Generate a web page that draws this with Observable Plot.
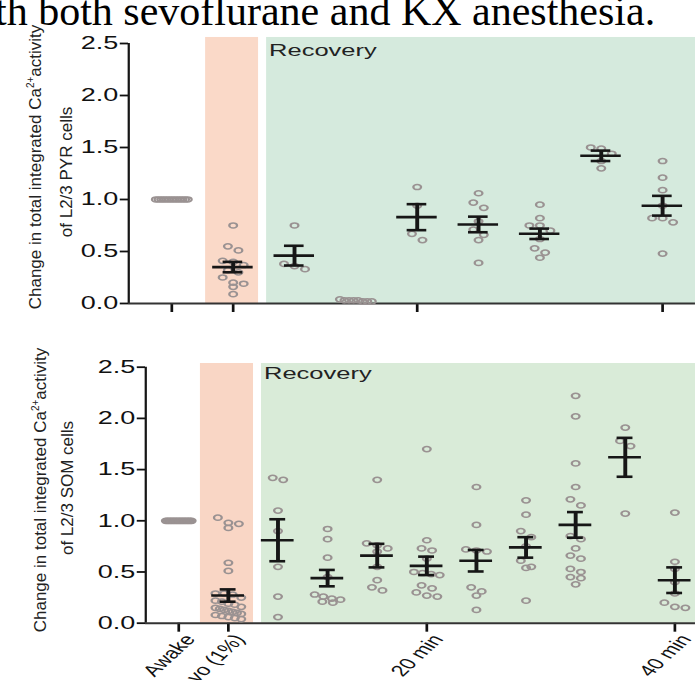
<!DOCTYPE html>
<html>
<head>
<meta charset="utf-8">
<script src="https://cdn.jsdelivr.net/npm/d3@7"></script>
<script src="https://cdn.jsdelivr.net/npm/@observablehq/plot@0.6"></script>
<style>
  html, body { margin: 0; padding: 0; background: #fff; width: 695px; height: 680px; overflow: hidden; position: relative; }
  .panel { position: absolute; left: 0; transform: scaleX(1.5); transform-origin: 0 0; }
  #overlay { position: absolute; left: 0; top: 0; pointer-events: none; }
</style>
</head>
<body>
<div id="top" class="panel" style="top:30px"></div>
<div id="bottom" class="panel" style="top:318px"></div>
<svg id="overlay" width="695" height="680">
  <text x="-5" y="25" font-family="Liberation Serif, Times New Roman, serif" font-size="42" fill="#000">th both sevoflurane and KX anesthesia.</text>
  <g font-family="Liberation Sans, Arial, sans-serif" font-size="17" fill="#222" text-anchor="middle">
    <text transform="translate(41,167) rotate(-90)">Change in total integrated Ca<tspan font-size="10" dy="-7">2+</tspan><tspan dy="7">activity</tspan></text>
    <text transform="translate(72,172) rotate(-90)">of L2/3 PYR cells</text>
    <text transform="translate(46,490) rotate(-90)">Change in total integrated Ca<tspan font-size="10" dy="-7">2+</tspan><tspan dy="7">activity</tspan></text>
    <text transform="translate(73,488) rotate(-90)">of L2/3 SOM cells</text>
  </g>
</svg>
<script>
// ---------- data ----------
const yTicks = [0, 0.5, 1.0, 1.5, 2.0, 2.5];

// Panel 1: L2/3 PYR cells
const pyrCategories = ["Awake", "Sevo (1%)", "10 min", "15 min", "20 min", "25 min", "30 min", "35 min", "40 min"];
const pyrValues = [
  [1, 1, 1, 1, 1, 1, 1, 1, 1, 1, 1, 1, 1],
  [0.75, 0.55, 0.51, 0.41, 0.40, 0.37, 0.32, 0.30, 0.25, 0.20, 0.19, 0.16, 0.09],
  [0.75, 0.38, 0.36, 0.33],
  [0.03, 0.02, 0.03, 0.02, 0.04, 0.03, 0.02, 0.03],
  [1.12, 0.94, 0.67, 0.61],
  [1.06, 0.97, 0.92, 0.79, 0.71, 0.66, 0.61, 0.39],
  [0.95, 0.82, 0.75, 0.75, 0.70, 0.62, 0.53, 0.49, 0.44],
  [1.50, 1.49, 1.44, 1.37, 1.30],
  [1.37, 1.21, 1.09, 0.94, 0.82, 0.82, 0.78, 0.48]
];
const pyrMeans = [null, 0.35, 0.46, null, 0.83, 0.76, 0.67, 1.42, 0.94];
const pyrSems  = [null, 0.05, 0.095, null, 0.125, 0.075, 0.05, 0.05, 0.095];
const pyrTickCategories = ["Awake", "Sevo (1%)", "20 min", "40 min"];

// Panel 2: L2/3 SOM cells
const somCategories = ["Awake", "Sevo (1%)", "8 min", "12 min", "16 min", "20 min", "24 min", "28 min", "32 min", "36 min", "40 min"];
const somValues = [
  [1, 1, 1, 1, 1, 1, 1, 1, 1, 1, 1, 1, 1, 1, 1, 1, 1, 1],
  [1.03, 0.98, 0.97, 0.93, 0.59, 0.51, 0.29, 0.29, 0.28, 0.25, 0.22, 0.21, 0.19, 0.18, 0.16, 0.15, 0.14, 0.13, 0.12, 0.11, 0.10, 0.09, 0.08, 0.07, 0.06, 0.05, 0.04],
  [1.42, 1.40, 1.10, 0.90, 0.55, 0.26, 0.06],
  [0.92, 0.82, 0.64, 0.45, 0.28, 0.26, 0.24, 0.23, 0.21, 0.20],
  [1.40, 0.78, 0.76, 0.73, 0.70, 0.55, 0.42, 0.35, 0.32],
  [1.70, 0.81, 0.73, 0.71, 0.63, 0.50, 0.49, 0.48, 0.47, 0.37, 0.34, 0.30, 0.27, 0.26],
  [1.33, 0.96, 0.72, 0.71, 0.70, 0.35, 0.31, 0.27, 0.13],
  [1.20, 1.06, 0.90, 0.84, 0.75, 0.61, 0.55, 0.54, 0.22],
  [2.22, 2.02, 1.56, 1.33, 1.21, 1.15, 0.85, 0.82, 0.73, 0.66, 0.63, 0.53, 0.50, 0.45, 0.44, 0.38],
  [1.91, 1.78, 1.73, 1.07],
  [1.08, 0.60, 0.53, 0.40, 0.29, 0.20, 0.16, 0.15]
];
const somMeans = [null, 0.27, 0.81, 0.44, 0.66, 0.56, 0.61, 0.74, 0.96, 1.62, 0.42];
const somSems  = [null, 0.06, 0.205, 0.08, 0.115, 0.09, 0.105, 0.10, 0.125, 0.19, 0.125];
const somTickCategories = ["Awake", "Sevo (1%)", "20 min", "40 min"];

// ---------- drawing ----------
const POINT = "#9a9292";
const INK = "#161616";

function swarm(vals, gi, yPx, xPx, maxHalf, gap) {
  const s = vals.slice().sort((a, b) => b - a);
  const rows = [];
  let row = [];
  for (const v of s) {
    if (row.length && (row[0] - v) * yPx > 6.5) { rows.push(row); row = []; }
    row.push(v);
  }
  if (row.length) rows.push(row);
  const out = [];
  for (const r of rows) {
    const n = r.length;
    const step = n > 1 ? Math.min(gap, 2 * maxHalf / (n - 1)) : 0;
    r.forEach((v, k) => out.push({x: gi + (k - (n - 1) / 2) * step / xPx, y: v}));
  }
  return out;
}

function panel(cfg) {
  const {categories, values, means, sems, tickCats, showTickText,
         width, height, marginLeft, marginTop, marginBottom, xDomain,
         orange, greenStart, bandTop, orangeFill, greenFill} = cfg;
  const xPx = (width - marginLeft) / (xDomain[1] - xDomain[0]);
  const yPx = (height - marginTop - marginBottom) / 2.5;
  const points = values.flatMap((vals, gi) => swarm(vals, gi, yPx, xPx, 0.26 * xPx, 7));
  const stats = means.map((m, i) => ({i, m, s: sems[i]})).filter(d => d.m != null);
  const meanHalf = 0.33, capHalf = 0.16;
  const tickIdx = tickCats.map(c => categories.indexOf(c));
  return Plot.plot({
    width, height, marginLeft, marginRight: 0, marginTop, marginBottom,
    style: {fontFamily: "Liberation Sans, Arial, sans-serif", background: "transparent", overflow: "visible", color: "#111"},
    x: {type: "linear", domain: xDomain},
    y: {domain: [0, 2.5]},
    marks: [
      Plot.rect([0], {x1: orange[0], x2: orange[1], y1: 0, y2: bandTop, fill: orangeFill}),
      Plot.rect([0], {x1: greenStart, x2: xDomain[1], y1: 0, y2: bandTop, fill: greenFill}),
      Plot.text(["Recovery"], {x: greenStart, y: 2.5, text: d => d, textAnchor: "start", lineAnchor: "top", dx: 1.5, fontSize: 17, fill: "#222"}),
      Plot.axisY({ticks: yTicks, tickFormat: d3.format(".1f"), tickSize: 5.5, tickPadding: 1.5, fontSize: 18, strokeWidth: 1.8, label: null}),
      Plot.axisX({ticks: tickIdx, tickFormat: () => "", tickSize: 9, strokeWidth: 1.8, label: null}),
      showTickText
        ? Plot.text(tickIdx, {x: d => d, y: 0, text: d => categories[d], rotate: -54, textAnchor: "end", lineAnchor: "top", dx: 2.5, dy: 9.5, fontSize: 15.8, fill: "#111"})
        : null,
      Plot.ruleX([xDomain[0]], {y1: 0, y2: 2.5, strokeWidth: 1.5, stroke: INK}),
      Plot.ruleY([0], {strokeWidth: 2, stroke: "#333"}),
      Plot.dot(points, {x: "x", y: "y", r: 2.6, stroke: POINT, strokeWidth: 1.5, fill: "none"}),
      Plot.ruleX(stats, {x: "i", y1: d => d.m - d.s, y2: d => d.m + d.s, stroke: INK, strokeWidth: 2.6}),
      Plot.ruleY(stats, {y: "m", x1: d => d.i - meanHalf, x2: d => d.i + meanHalf, stroke: INK, strokeWidth: 2.6}),
      Plot.ruleY(stats, {y: d => d.m + d.s, x1: d => d.i - capHalf, x2: d => d.i + capHalf, stroke: INK, strokeWidth: 2.6}),
      Plot.ruleY(stats, {y: d => d.m - d.s, x1: d => d.i - capHalf, x2: d => d.i + capHalf, stroke: INK, strokeWidth: 2.6})
    ]
  });
}

document.getElementById("top").append(panel({
  categories: pyrCategories, values: pyrValues, means: pyrMeans, sems: pyrSems,
  tickCats: pyrTickCategories, showTickText: false,
  width: 463.33, height: 288, marginLeft: 85.33, marginTop: 13, marginBottom: 15,
  xDomain: [-0.702, 8.54], orange: [0.555, 1.418], greenStart: 1.549, bandTop: 2.558,
  orangeFill: "#fad9c8", greenFill: "#d5eadd"
}));

document.getElementById("bottom").append(panel({
  categories: somCategories, values: somValues, means: somMeans, sems: somSems,
  tickCats: somTickCategories, showTickText: true,
  width: 463.33, height: 380, marginLeft: 96.67, marginTop: 48.7, marginBottom: 75.3,
  xDomain: [-0.665, 10.42], orange: [0.442, 1.512], greenStart: 1.673, bandTop: 2.536,
  orangeFill: "#f9d6c5", greenFill: "#d9ebd8"
}));
</script>
</body>
</html>
